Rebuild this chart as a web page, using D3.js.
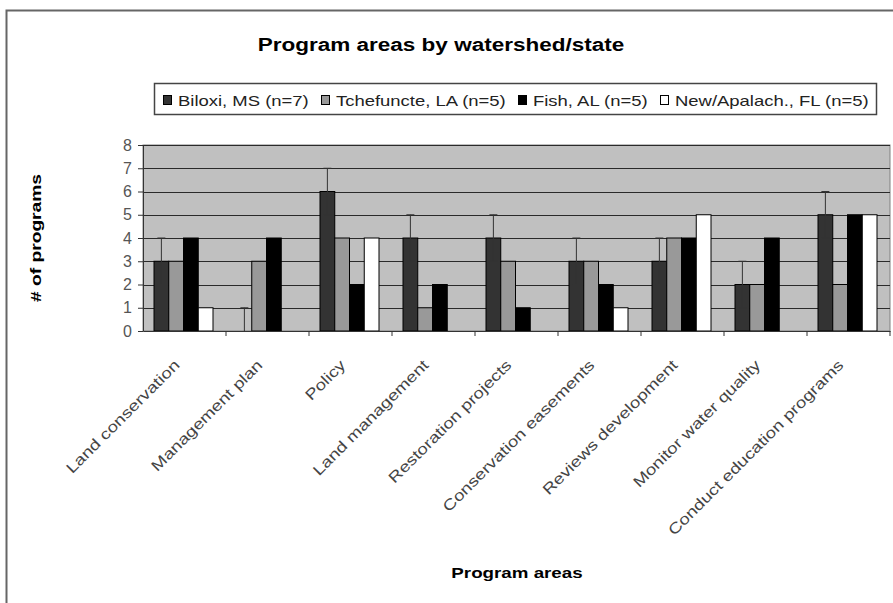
<!DOCTYPE html>
<html>
<head>
<meta charset="utf-8">
<script src="https://cdn.jsdelivr.net/npm/d3@7"></script>
<style>
  body { margin: 0; background: #fff; }
  svg { display: block; font-family: "Liberation Sans", Arial, sans-serif; }
</style>
</head>
<body>
<svg id="chart" width="893" height="603"></svg>
<script>
// categories along the x axis
const categories = ["Land conservation", "Management plan", "Policy", "Land management",
    "Restoration projects", "Conservation easements", "Reviews development",
    "Monitor water quality", "Conduct education programs"];
const seriesNames = ["Biloxi, MS (n=7)", "Tchefuncte, LA (n=5)", "Fish, AL (n=5)", "New/Apalach., FL (n=5)"];
const seriesColors = ["#333333", "#999999", "#000000", "#ffffff"];

// values
const biloxi = [3, 0, 6, 4, 4, 3, 3, 2, 5];
const tchefuncte = [3, 3, 4, 1, 3, 3, 4, 2, 2];
const fish = [4, 4, 2, 2, 1, 2, 4, 4, 5];
const newApalach = [1, 0, 4, 0, 0, 1, 5, 0, 5];
// error bar (+/-) only on Biloxi
const biloxiErr = [1, 1, 1, 1, 1, 1, 1, 1, 1];
const yTicks = [0, 1, 2, 3, 4, 5, 6, 7, 8];

const allSeries = [biloxi, tchefuncte, fish, newApalach];

const svg = d3.select("#chart");
const margin = { left: 143, top: 145, right: 890, bottom: 331 };

// the original picture is stretched sideways, so widen text a bit
function stretch(sel, k) {
    sel.each(function () {
        const w = this.getComputedTextLength();
        d3.select(this)
            .attr("textLength", w * k)
            .attr("lengthAdjust", "spacingAndGlyphs");
    });
}

// outer frame
svg.append("rect")
    .attr("x", 6.5).attr("y", 10.5)
    .attr("width", 920).attr("height", 640)
    .attr("fill", "none").attr("stroke", "#666").attr("stroke-width", 2);

const x0 = d3.scaleBand()
    .domain(categories)
    .range([margin.left, margin.right])
    .padding(0);
const x1 = d3.scaleBand()
    .domain(d3.range(seriesNames.length))
    .range([11, 70]);
const y = d3.scaleLinear()
    .domain([0, 8])
    .range([margin.bottom, margin.top]);

// plot background
svg.append("rect")
    .attr("x", margin.left).attr("y", margin.top)
    .attr("width", margin.right - margin.left)
    .attr("height", margin.bottom - margin.top)
    .attr("fill", "#c0c0c0")
    .attr("stroke", "#808080");

// gridlines
svg.append("g")
    .selectAll("line")
    .data(yTicks.slice(1))
    .join("line")
    .attr("x1", margin.left).attr("x2", margin.right)
    .attr("y1", d => Math.round(y(d)) + 0.5)
    .attr("y2", d => Math.round(y(d)) + 0.5)
    .attr("stroke", "#2a2a2a")
    .attr("stroke-width", 1);

// bars
const groups = svg.append("g")
    .selectAll("g")
    .data(categories)
    .join("g")
    .attr("transform", d => `translate(${x0(d)},0)`);

groups.selectAll("rect")
    .data((d, i) => allSeries.map((s, k) => ({ k: k, v: s[i] })))
    .join("rect")
    .filter(d => d.v > 0)
    .attr("x", d => x1(d.k))
    .attr("y", d => y(d.v))
    .attr("width", x1.bandwidth())
    .attr("height", d => y(0) - y(d.v))
    .attr("fill", d => seriesColors[d.k])
    .attr("stroke", "#000")
    .attr("stroke-width", 1);

// error bars for Biloxi
const errG = svg.append("g");
categories.forEach((c, i) => {
    const cx = x0(c) + x1(0) + x1.bandwidth() / 2;
    const hi = biloxi[i] + biloxiErr[i];
    const lo = Math.max(0, biloxi[i] - biloxiErr[i]);
    errG.append("line")
        .attr("x1", cx).attr("x2", cx)
        .attr("y1", y(hi)).attr("y2", y(lo))
        .attr("stroke", "#333").attr("stroke-width", 1);
    errG.append("line")
        .attr("x1", cx - 4).attr("x2", cx + 4)
        .attr("y1", y(hi)).attr("y2", y(hi))
        .attr("stroke", "#333").attr("stroke-width", 1);
    if (biloxi[i] - biloxiErr[i] > 0) {
        errG.append("line")
            .attr("x1", cx - 4).attr("x2", cx + 4)
            .attr("y1", y(lo)).attr("y2", y(lo))
            .attr("stroke", "#333").attr("stroke-width", 1);
    }
});

// y axis
const yAxis = svg.append("g")
    .attr("transform", `translate(${margin.left},0)`)
    .call(d3.axisLeft(y).tickValues(yTicks).tickSize(5).tickSizeOuter(0).tickPadding(6));
yAxis.select(".domain").attr("stroke", "#333");
yAxis.selectAll(".tick line").attr("stroke", "#333");
yAxis.selectAll("text")
    .attr("fill", "#555")
    .style("font-size", "16px");

// x axis
const xAxis = svg.append("g")
    .attr("transform", `translate(0,${margin.bottom})`)
    .call(d3.axisBottom(x0).tickSize(0).tickSizeOuter(0).tickPadding(0));
xAxis.select(".domain").attr("stroke", "#333");
xAxis.selectAll(".tick text")
    .attr("fill", "#444")
    .style("font-size", "15px")
    .attr("text-anchor", "end")
    .attr("y", 0)
    .attr("dy", "0")
    .attr("transform", "translate(-4,35) rotate(-45)")
    .call(stretch, 1.25);
// category separator ticks
xAxis.selectAll("line.sep")
    .data(categories)
    .join("line")
    .attr("class", "sep")
    .attr("x1", d => x0(d) + x0.bandwidth()).attr("x2", d => x0(d) + x0.bandwidth())
    .attr("y1", 0).attr("y2", 5)
    .attr("stroke", "#333");

// title
svg.append("text")
    .attr("x", 441).attr("y", 51)
    .attr("text-anchor", "middle")
    .style("font-size", "18px")
    .style("font-weight", "bold")
    .text("Program areas by watershed/state")
    .call(stretch, 1.25);

// y label
svg.append("text")
    .attr("transform", "translate(41,238) rotate(-90)")
    .attr("text-anchor", "middle")
    .style("font-size", "15px")
    .style("font-weight", "bold")
    .text("# of programs")
    .call(stretch, 1.28);

// x label
svg.append("text")
    .attr("x", 517).attr("y", 578)
    .attr("text-anchor", "middle")
    .style("font-size", "15px")
    .style("font-weight", "bold")
    .text("Program areas")
    .call(stretch, 1.25);

// legend
const legend = svg.append("g");
legend.append("rect")
    .attr("x", 154.5).attr("y", 83.5)
    .attr("width", 722).attr("height", 31)
    .attr("fill", "#fff")
    .attr("stroke", "#444")
    .attr("stroke-width", 1.5);
const legendX = [163, 321, 518, 660];
seriesNames.forEach((name, k) => {
    legend.append("rect")
        .attr("x", legendX[k] + 0.5).attr("y", 95.5)
        .attr("width", 8).attr("height", 9)
        .attr("fill", seriesColors[k])
        .attr("stroke", "#000");
    legend.append("text")
        .attr("x", legendX[k] + 15).attr("y", 106)
        .style("font-size", "15px")
        .attr("fill", "#222")
        .text(name)
        .call(stretch, 1.23);
});
</script>
</body>
</html>
